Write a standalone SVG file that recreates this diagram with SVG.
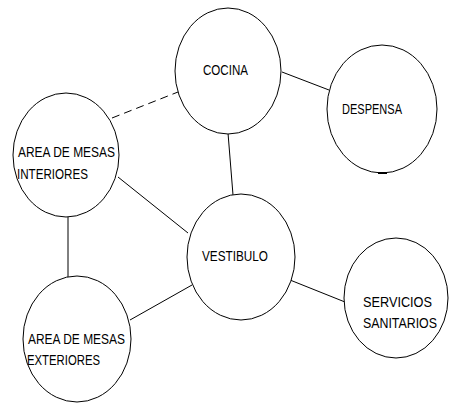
<svg xmlns="http://www.w3.org/2000/svg" width="449" height="403" viewBox="0 0 449 403">
<style>
.n{fill:#fff;stroke:#000;stroke-width:1}
.c{stroke:#000;stroke-width:1;fill:none}
.d{stroke-dasharray:8 5}
text{font-family:"Liberation Sans",Arial,sans-serif;font-size:14px;fill:#000}
</style>
<rect width="449" height="403" fill="#fff"/>
<g id="connectors">
<line class="c d" x1="112" y1="118" x2="178" y2="92"/>
<line class="c" x1="282" y1="72" x2="329" y2="90"/>
<line class="c" x1="228" y1="133" x2="233" y2="195"/>
<line class="c" x1="118" y1="177" x2="188" y2="233"/>
<line class="c" x1="68" y1="217" x2="68" y2="277"/>
<line class="c" x1="130" y1="320" x2="192" y2="285"/>
<line class="c" x1="290" y1="280" x2="345" y2="302"/>
</g>
<g id="cocina">
<ellipse class="n" cx="228" cy="71" rx="53" ry="63"/>
<text x="203" y="75" textLength="45" lengthAdjust="spacingAndGlyphs">COCINA</text>
</g>
<g id="despensa">
<ellipse class="n" cx="382" cy="109" rx="55" ry="64"/>
<line x1="378" y1="173" x2="387" y2="173" stroke="#000" stroke-width="2"/>
<text x="342" y="114" textLength="60" lengthAdjust="spacingAndGlyphs">DESPENSA</text>
</g>
<g id="interiores">
<ellipse class="n" cx="66" cy="155" rx="53" ry="62"/>
<text x="18" y="157" textLength="97" lengthAdjust="spacingAndGlyphs">AREA DE MESAS</text>
<text x="17" y="179" textLength="71" lengthAdjust="spacingAndGlyphs">INTERIORES</text>
</g>
<g id="vestibulo">
<ellipse class="n" cx="241" cy="257" rx="54" ry="63"/>
<text x="202" y="261" textLength="66" lengthAdjust="spacingAndGlyphs">VESTIBULO</text>
</g>
<g id="servicios">
<ellipse class="n" cx="396" cy="298" rx="52" ry="60"/>
<text x="363" y="307" textLength="69" lengthAdjust="spacingAndGlyphs">SERVICIOS</text>
<text x="363" y="328" textLength="74" lengthAdjust="spacingAndGlyphs">SANITARIOS</text>
</g>
<g id="exteriores">
<ellipse class="n" cx="77" cy="339" rx="54" ry="63"/>
<text x="28" y="344" textLength="97" lengthAdjust="spacingAndGlyphs">AREA DE MESAS</text>
<text x="27" y="365" textLength="73" lengthAdjust="spacingAndGlyphs">EXTERIORES</text>
</g>
</svg>
